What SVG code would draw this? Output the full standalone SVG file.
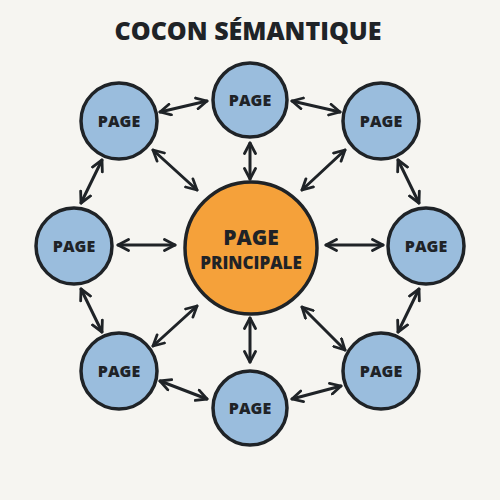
<svg xmlns="http://www.w3.org/2000/svg" width="500" height="500" viewBox="0 0 500 500">
<style>
.bg{fill:#f6f5f1}
.n circle{fill:#9abddd;stroke:#1f2327;stroke-width:3.5}
.main circle{fill:#f5a13a;stroke:#1f2327;stroke-width:3.5}
text{font-family:"Open Sans","Liberation Sans",sans-serif;font-weight:800;fill:#1f2327;text-anchor:middle}
.lbl{font-size:16px}
.edges line{stroke:#1f2327;stroke-width:3;stroke-linecap:round;marker-start:url(#ah);marker-end:url(#ah)}
</style>
<defs>
<marker id="ah" viewBox="0 0 14 14" refX="12" refY="7" markerWidth="14" markerHeight="14" markerUnits="userSpaceOnUse" orient="auto-start-reverse">
<path d="M1.5,1.5 L12,7 L1.5,12.5" fill="none" stroke="#1f2327" stroke-width="2.8" stroke-linecap="round" stroke-linejoin="round"/>
</marker>
</defs>
<rect class="bg" width="500" height="500"/>
<text x="248" y="40" style="font-size:25px">COCON SÉMANTIQUE</text>
<g class="edges">
<line x1="160" y1="112" x2="207" y2="101"/>
<line x1="292" y1="101" x2="340" y2="112"/>
<line x1="153" y1="150" x2="197" y2="190"/>
<line x1="250" y1="143" x2="250" y2="179"/>
<line x1="345" y1="150" x2="302" y2="190"/>
<line x1="102" y1="160" x2="81" y2="203"/>
<line x1="398" y1="160" x2="419" y2="203"/>
<line x1="118" y1="245" x2="175" y2="245"/>
<line x1="326" y1="245" x2="383" y2="245"/>
<line x1="81" y1="289" x2="102" y2="332"/>
<line x1="419" y1="289" x2="398" y2="332"/>
<line x1="153" y1="346" x2="197" y2="306"/>
<line x1="345" y1="350" x2="302" y2="307"/>
<line x1="250" y1="318" x2="250" y2="362"/>
<line x1="160" y1="381" x2="207" y2="399"/>
<line x1="292" y1="399" x2="341" y2="386"/>
</g>
<g id="main" class="main"><circle cx="251" cy="248" r="66"/><text x="251" y="245" style="font-size:21px">PAGE</text><text x="251" y="269" style="font-size:17px">PRINCIPALE</text></g>
<g id="n-top" class="n"><circle cx="250" cy="100" r="37"/><text class="lbl" x="250" y="106">PAGE</text></g>
<g id="n-tl" class="n"><circle cx="119" cy="121" r="38"/><text class="lbl" x="119" y="127">PAGE</text></g>
<g id="n-tr" class="n"><circle cx="381" cy="121" r="38"/><text class="lbl" x="381" y="127">PAGE</text></g>
<g id="n-l" class="n"><circle cx="74" cy="246" r="38"/><text class="lbl" x="74" y="252">PAGE</text></g>
<g id="n-r" class="n"><circle cx="426" cy="246" r="38"/><text class="lbl" x="426" y="252">PAGE</text></g>
<g id="n-bl" class="n"><circle cx="119" cy="371" r="38"/><text class="lbl" x="119" y="377">PAGE</text></g>
<g id="n-br" class="n"><circle cx="381" cy="371" r="38"/><text class="lbl" x="381" y="377">PAGE</text></g>
<g id="n-b" class="n"><circle cx="250" cy="408" r="37"/><text class="lbl" x="250" y="414">PAGE</text></g>
</svg>
